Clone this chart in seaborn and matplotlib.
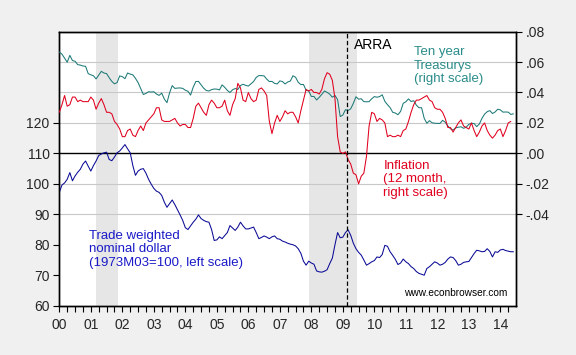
import numpy as np
import pandas as pd
import seaborn as sns
import matplotlib.pyplot as plt

# monthly observations, 2000M01 - 2014M06
# trade weighted nominal dollar, 1973M03=100 (left scale)
dollar = [
    97.2, 99.6, 100.3, 101.5, 103.7, 101.0, 102.6, 103.8, 104.8, 106.5, 107.5, 105.8,   # 2000
    104.2, 106.0, 107.5, 109.3, 109.8, 110.2, 110.4, 108.0, 107.6, 108.8, 110.2, 110.8,  # 2001
    111.8, 112.9, 111.5, 110.2, 106.0, 102.8, 104.2, 104.8, 105.0, 103.5, 101.5, 99.9,   # 2002
    98.5, 97.6, 97.2, 96.2, 94.0, 92.3, 93.5, 94.7, 93.2, 91.5, 89.8, 88.0,              # 2003
    85.6, 85.0, 86.2, 87.4, 88.4, 89.8, 88.6, 88.0, 87.6, 87.4, 85.0, 81.4,              # 2004
    81.6, 82.6, 82.0, 83.0, 84.0, 86.3, 85.5, 84.7, 85.8, 87.4, 86.2, 85.2,              # 2005
    85.2, 85.5, 85.8, 84.0, 82.0, 82.4, 82.9, 82.5, 82.0, 82.6, 82.9, 82.0,              # 2006
    81.8, 81.2, 80.9, 80.5, 80.2, 80.0, 79.6, 78.7, 77.2, 74.6, 73.3, 74.6,              # 2007
    74.0, 73.6, 71.4, 71.1, 71.0, 71.3, 71.8, 73.8, 75.6, 80.0, 84.0, 82.3,              # 2008
    82.5, 84.0, 84.9, 83.1, 80.5, 78.7, 77.5, 76.6, 75.0, 73.3, 73.8, 74.4,              # 2009
    74.8, 76.0, 75.8, 76.8, 79.8, 79.5, 77.7, 76.5, 75.2, 73.5, 74.0, 75.3,              # 2010
    74.4, 73.8, 72.8, 72.2, 71.2, 70.6, 70.3, 70.0, 72.2, 72.8, 73.6, 74.4,              # 2011
    74.0, 73.3, 73.6, 74.2, 75.3, 76.0, 75.8, 74.8, 73.3, 73.6, 74.2, 74.4,              # 2012
    74.5, 75.8, 77.1, 78.2, 78.0, 77.7, 77.8, 78.7, 77.8, 76.0, 77.7, 77.5,              # 2013
    78.3, 78.5, 78.1, 77.9, 77.7, 77.7,                                                  # 2014
]

# 12 month inflation, percent (right scale), last month not yet out
inflation = [
    2.7, 3.2, 3.8, 3.1, 3.2, 3.7, 3.7, 3.4, 3.5, 3.4, 3.4, 3.4,
    3.7, 3.5, 2.9, 3.3, 3.6, 3.2, 2.7, 2.7, 2.6, 2.1, 1.9, 1.6,
    1.1, 1.1, 1.5, 1.6, 1.2, 1.1, 1.5, 1.8, 1.5, 2.0, 2.2, 2.4,
    2.6, 3.0, 3.0, 2.2, 2.1, 2.1, 2.1, 2.2, 2.3, 2.0, 1.8, 1.9,
    1.9, 1.7, 1.7, 2.3, 3.1, 3.3, 3.0, 2.7, 2.5, 3.2, 3.5, 3.3,
    3.0, 3.0, 3.1, 3.5, 2.8, 2.5, 3.2, 3.6, 4.6, 4.3, 3.5, 3.4,
    4.0, 3.6, 3.4, 3.5, 4.2, 4.3, 4.1, 3.8, 2.1, 1.3, 2.0, 2.5,
    2.1, 2.4, 2.8, 2.6, 2.7, 2.7, 2.4, 2.0, 2.8, 3.5, 4.2, 4.1,
    4.2, 4.0, 4.0, 3.9, 4.2, 4.9, 5.3, 5.2, 4.8, 3.6, 1.1, 0.1,
    0.0, 0.1, -0.4, -0.7, -1.3, -1.4, -2.0, -1.5, -1.3, -0.2, 1.8, 2.7,
    2.6, 2.1, 2.3, 2.2, 2.0, 1.1, 1.2, 1.1, 1.1, 1.2, 1.1, 1.5,
    1.6, 2.1, 2.7, 3.2, 3.5, 3.5, 3.6, 3.7, 3.8, 3.5, 3.4, 3.0,
    2.9, 2.9, 2.7, 2.3, 1.7, 1.7, 1.4, 1.7, 2.0, 2.2, 1.8, 1.7,
    1.6, 2.0, 1.5, 1.1, 1.4, 1.8, 2.0, 1.5, 1.2, 1.0, 1.2, 1.5,
    1.6, 1.1, 1.5, 2.0, 2.1, np.nan,
]

# ten year Treasury yield, percent (right scale)
treasury = [
    6.66, 6.52, 6.26, 5.99, 6.44, 6.10, 6.05, 5.83, 5.80, 5.74, 5.72, 5.24,
    5.16, 5.10, 4.89, 5.14, 5.39, 5.28, 5.24, 4.97, 4.73, 4.57, 4.65, 5.09,
    5.04, 4.91, 5.28, 5.21, 5.16, 4.93, 4.65, 4.26, 3.87, 3.94, 4.05, 4.03,
    4.05, 3.90, 3.81, 3.96, 3.57, 3.33, 3.98, 4.45, 4.27, 4.29, 4.30, 4.27,
    4.15, 4.08, 3.83, 4.35, 4.72, 4.73, 4.50, 4.28, 4.13, 4.10, 4.19, 4.23,
    4.22, 4.17, 4.50, 4.34, 4.14, 4.00, 4.18, 4.26, 4.20, 4.46, 4.54, 4.47,
    4.42, 4.57, 4.72, 4.99, 5.11, 5.11, 5.09, 4.88, 4.72, 4.73, 4.60, 4.56,
    4.76, 4.72, 4.56, 4.69, 4.75, 5.10, 5.00, 4.67, 4.52, 4.53, 4.15, 4.10,
    3.74, 3.74, 3.51, 3.68, 3.88, 4.10, 4.01, 3.89, 3.69, 3.81, 3.53, 2.42,
    2.52, 2.87, 2.82, 2.93, 3.29, 3.72, 3.56, 3.59, 3.40, 3.39, 3.40, 3.59,
    3.73, 3.69, 3.73, 3.85, 3.42, 3.20, 3.01, 2.70, 2.65, 2.54, 2.76, 3.29,
    3.39, 3.58, 3.41, 3.46, 3.17, 3.00, 3.00, 2.30, 1.98, 2.15, 2.01, 1.98,
    1.97, 1.97, 2.17, 2.05, 1.80, 1.62, 1.53, 1.68, 1.72, 1.75, 1.65, 1.72,
    1.91, 1.98, 1.96, 1.76, 1.93, 2.30, 2.58, 2.74, 2.81, 2.62, 2.72, 2.90,
    2.86, 2.71, 2.72, 2.71, 2.56, 2.60,
]

year_labels = ['00', '01', '02', '03', '04', '05', '06', '07',
               '08', '09', '10', '11', '12', '13', '14']
left_ticks = [60, 70, 80, 90, 100, 110, 120]
right_ticks = [-0.04, -0.02, 0.00, 0.02, 0.04, 0.06, 0.08]
right_labels = ['-.04', '-.02', '.00', '.02', '.04', '.06', '.08']
# NBER recessions (peak month to trough month)
recessions = [(2001 + 2/12, 2001 + 10.5/12), (2007 + 11/12, 2009 + 5.5/12)]
arra_date = 2009 + 1.5/12   # Feb 2009

df = pd.DataFrame({
    'date': 2000 + np.arange(len(dollar)) / 12,
    'dollar': dollar,
    'inflation': np.array(inflation) / 100,
    'treasury': np.array(treasury) / 100,
})

sns.set_style('white')
plt.rcParams['font.family'] = ['Liberation Sans', 'DejaVu Sans']

fig = plt.figure(figsize=(5.76, 3.55), dpi=100, facecolor='#F0F0F0')
ax = fig.add_axes([0.103, 0.139, 0.793, 0.772])
ax2 = ax.twinx()

# left scale: 60..150, right scale -0.10..0.08 (same grid)
ax.set_ylim(60, 150)
ax2.set_ylim(-0.10, 0.08)
ax.set_xlim(2000, 2014.5)

for r0, r1 in recessions:
    ax.axvspan(r0, r1, color='#E6E6E6', lw=0, zorder=0)

for r in right_ticks:
    lv = 110 + r * 500
    if r == 0:
        ax.axhline(lv, color='black', lw=1.0, zorder=1)
    else:
        ax.axhline(lv, color='#C8C8C8', lw=0.8, zorder=1)

sns.lineplot(data=df, x='date', y='dollar', ax=ax, color='#0A0A96',
             lw=0.75, estimator=None, zorder=3)
sns.lineplot(data=df, x='date', y='treasury', ax=ax2, color='#1C7A78',
             lw=0.75, estimator=None, zorder=3)
sns.lineplot(data=df, x='date', y='inflation', ax=ax2, color='#E0001E',
             lw=0.75, estimator=None, zorder=4)

ax2.axvline(arra_date, color='black', lw=0.9, ls=(0, (3.5, 2)), zorder=5)

ax.set_xticks(range(2000, 2015))
ax.set_xticklabels(year_labels)
ax.set_xticks(np.arange(2000, 2014.5, 0.25), minor=True)
ax.set_yticks(left_ticks)
ax.set_yticklabels([str(t) for t in left_ticks])
ax2.set_yticks(right_ticks)
ax2.set_yticklabels(right_labels)

for a in (ax, ax2):
    a.set_xlabel('')
    a.set_ylabel('')
    for s in a.spines.values():
        s.set_color('black')
        s.set_linewidth(1.0)
ax.tick_params(axis='both', which='both', direction='out', length=4, width=0.8,
               color='black', labelsize=10, pad=3, left=True, bottom=True)
ax.tick_params(axis='x', which='major', pad=5)
ax2.tick_params(axis='y', direction='out', length=4, width=0.8, color='black',
                labelsize=10, pad=3, right=True)
ax2.patch.set_visible(False)
ax.set_facecolor('white')

ax.text(2009.36, 145.5, 'ARRA', fontsize=10, color='black', va='center', zorder=6)
ax.text(2011.26, 145.2, 'Ten year\nTreasurys\n(right scale)', fontsize=9.5,
        color='#2A8C8A', va='top', linespacing=1.15, zorder=6)
ax.text(2010.29, 107.8, 'Inflation\n(12 month,\nright scale)', fontsize=9.5,
        color='#E0001E', va='top', linespacing=1.15, zorder=6)
ax.text(2000.93, 84.8, 'Trade weighted\nnominal dollar\n(1973M03=100, left scale)',
        fontsize=9.5, color='#1A1AC8', va='top', linespacing=1.15, zorder=6)
ax.text(2014.21, 64.1, 'www.econbrowser.com', fontsize=7.3, color='black',
        ha='right', va='center', zorder=6)

fig.savefig('out.png', dpi=100, facecolor=fig.get_facecolor())
